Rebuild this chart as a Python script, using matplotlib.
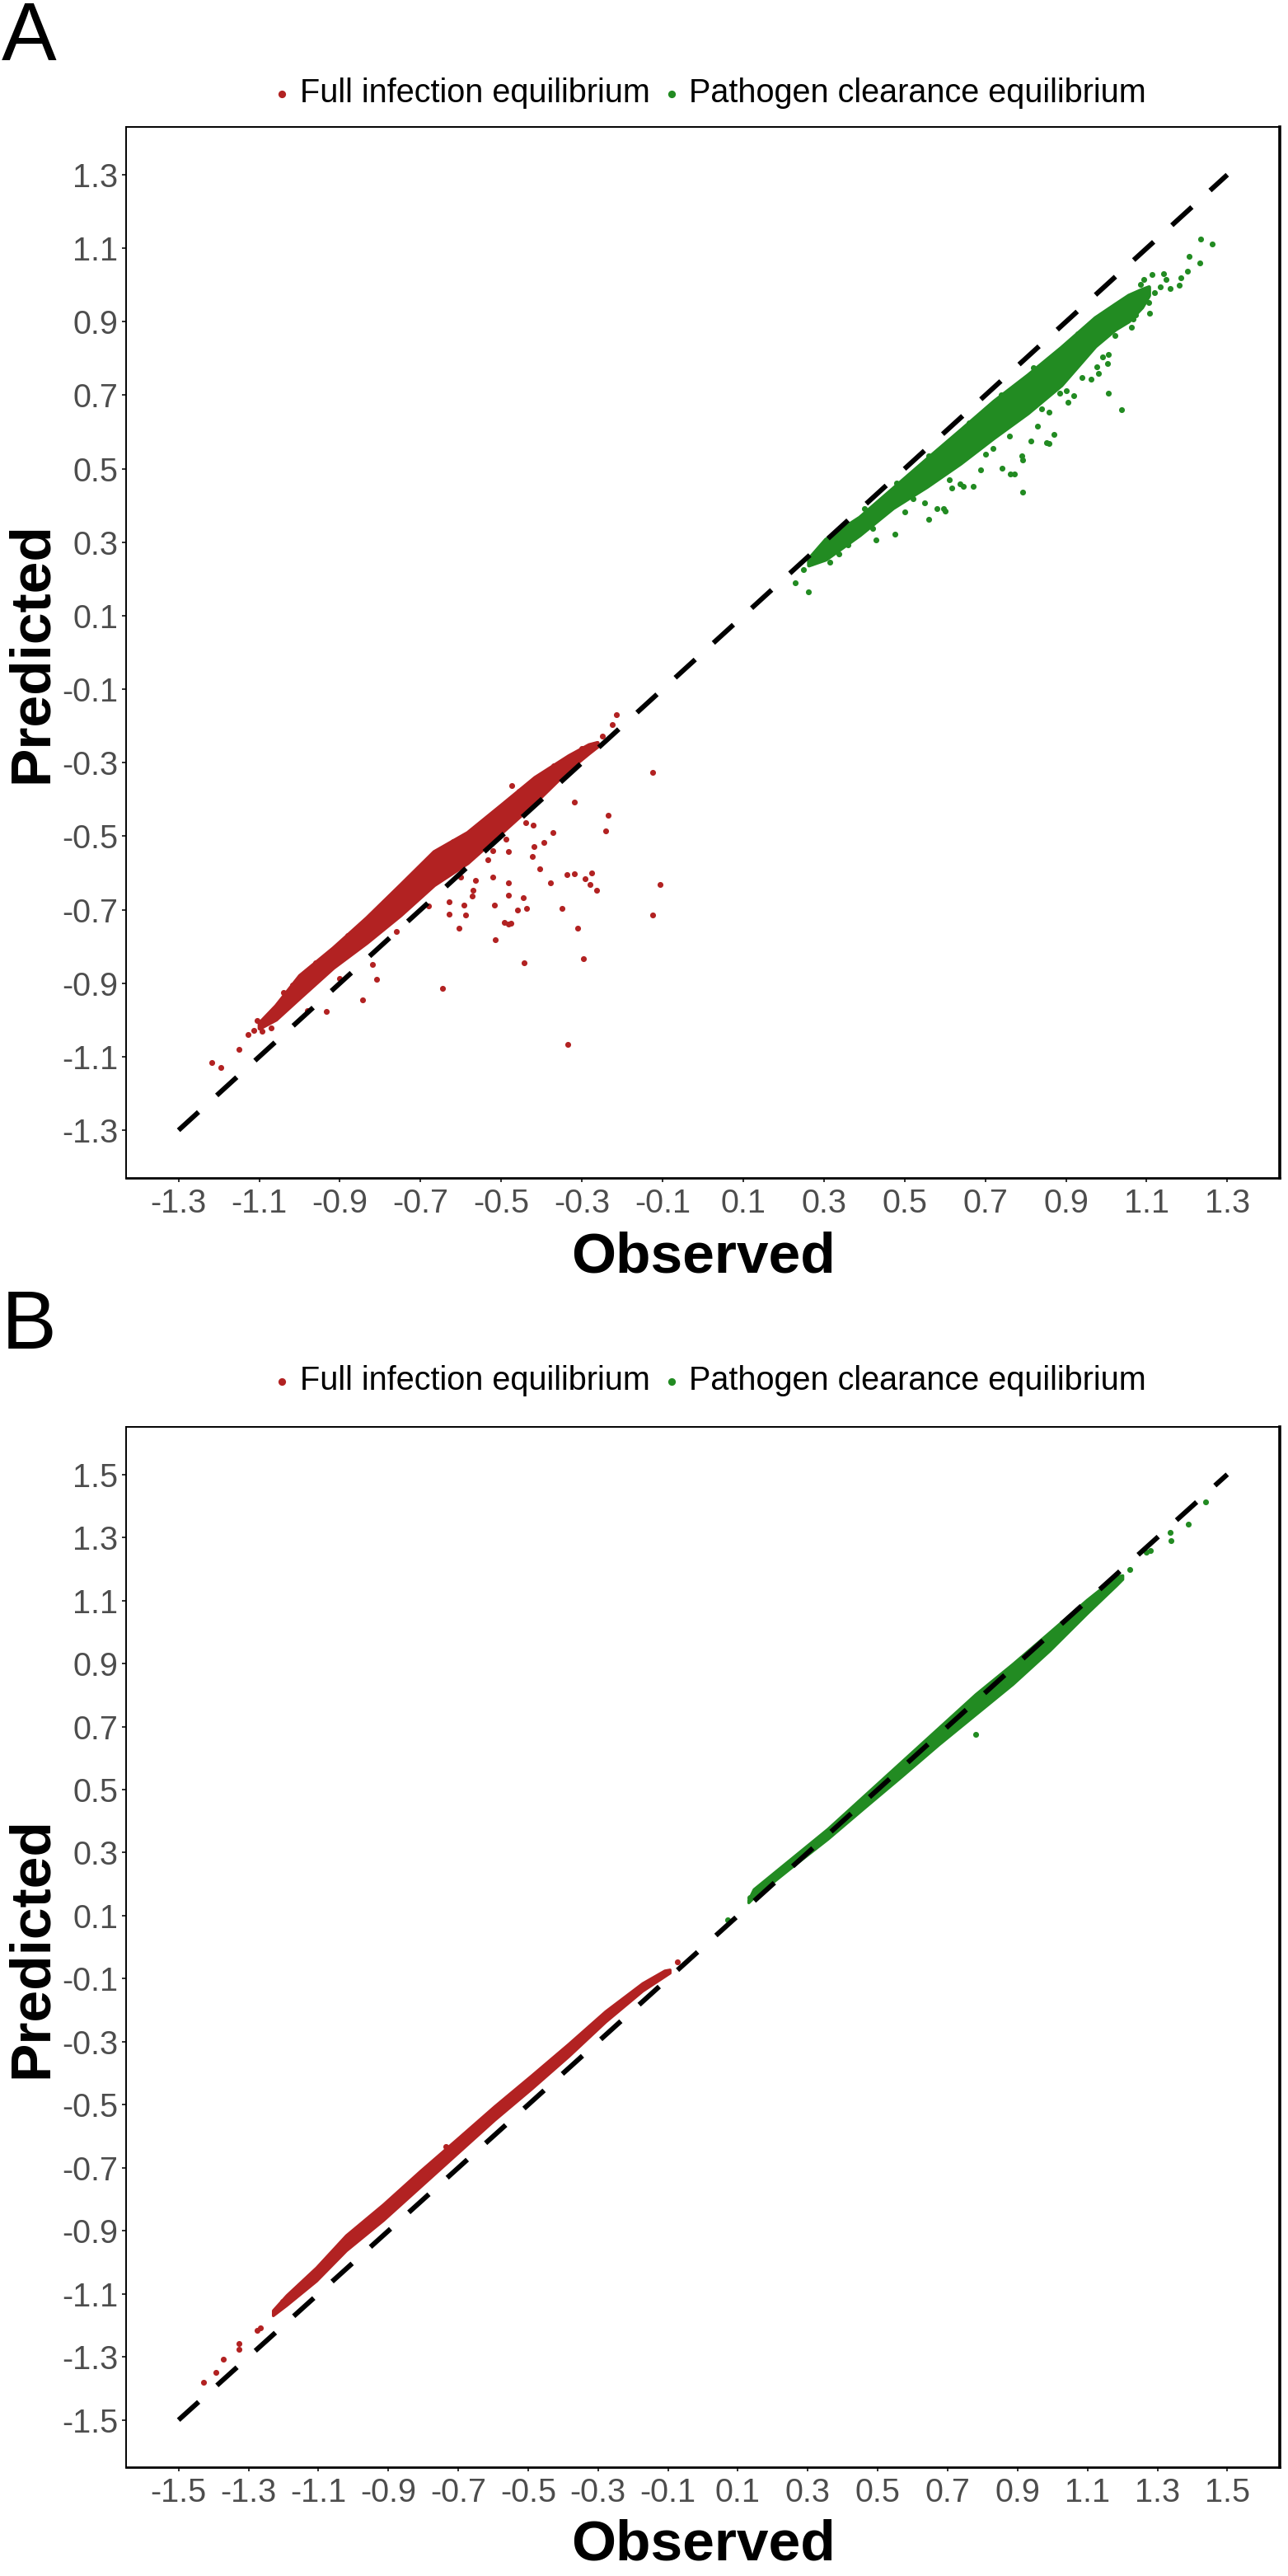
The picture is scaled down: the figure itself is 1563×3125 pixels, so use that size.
import matplotlib
matplotlib.use("Agg")
import matplotlib.pyplot as plt

plt.rcParams['font.family'] = ['Liberation Sans', 'DejaVu Sans']
plt.rcParams['axes.unicode_minus'] = False

RED = '#B22222'
GREEN = '#228B22'
LABELS = ["Full infection equilibrium", "Pathogen clearance equilibrium"]

# ---------------- panel A ----------------
a_ticks = [-1.3, -1.1, -0.9, -0.7, -0.5, -0.3, -0.1, 0.1, 0.3, 0.5, 0.7, 0.9, 1.1, 1.3]
a_lim = [-1.43, 1.43]
a_line = [-1.3, 1.3]

# dense core of the clouds (observed, predicted lower edge, predicted upper edge)
a_red_core_x = [-1.10, -1.059, -1.000, -0.917, -0.834, -0.750, -0.667, -0.584, -0.500, -0.417, -0.333, -0.283, -0.262]
a_red_core_lo = [-1.022, -0.998, -0.939, -0.857, -0.789, -0.714, -0.632, -0.572, -0.490, -0.408, -0.318, -0.273, -0.255]
a_red_core_hi = [-1.008, -0.961, -0.879, -0.804, -0.722, -0.632, -0.542, -0.490, -0.415, -0.340, -0.281, -0.251, -0.245]

a_green_core_x = [0.262, 0.304, 0.388, 0.471, 0.555, 0.638, 0.721, 0.805, 0.888, 0.972, 1.022, 1.055, 1.088, 1.105]
a_green_core_lo = [0.238, 0.254, 0.320, 0.394, 0.452, 0.515, 0.585, 0.652, 0.728, 0.834, 0.880, 0.902, 0.940, 0.972]
a_green_core_hi = [0.255, 0.308, 0.368, 0.447, 0.527, 0.605, 0.684, 0.755, 0.830, 0.911, 0.948, 0.972, 0.988, 0.995]

# scattered points around the cores
a_red_x = [-1.217, -1.196, -1.151, -1.127, -1.105, -1.084, -1.071, -1.092, -1.113, -1.017,
           -0.934, -0.844, -0.809, -0.819, -0.646, -0.629, -0.629, -0.604, -0.589, -0.592,
           -0.573, -0.571, -0.563, -0.534, -0.521, -0.517, -0.514, -0.492, -0.483, -0.475,
           -0.483, -0.483, -0.483, -0.488, -0.473, -0.459, -0.446, -0.438, -0.444, -0.421,
           -0.419, -0.423, -0.404, -0.394, -0.378, -0.371, -0.350, -0.338, -0.336, -0.318,
           -0.318, -0.310, -0.296, -0.292, -0.279, -0.275, -0.263, -0.242, -0.235, -0.215,
           -0.225, -0.250, -0.125, -0.125, -0.107,
           -1.040, -0.960, -0.880, -0.790, -0.705, -0.620, -0.540, -0.455, -0.370, -0.300,
           -0.980, -0.900, -0.760, -0.680, -0.600, -0.520, -0.440]
a_red_y = [-1.115, -1.129, -1.079, -1.040, -1.002, -0.996, -1.022, -1.031, -1.028, -0.904,
           -0.976, -0.946, -0.889, -0.848, -0.914, -0.679, -0.711, -0.750, -0.714, -0.687,
           -0.662, -0.647, -0.619, -0.563, -0.610, -0.687, -0.782, -0.735, -0.738, -0.737,
           -0.661, -0.627, -0.542, -0.507, -0.363, -0.700, -0.668, -0.697, -0.844, -0.469,
           -0.528, -0.554, -0.589, -0.518, -0.627, -0.490, -0.697, -0.605, -1.066, -0.406,
           -0.602, -0.750, -0.834, -0.616, -0.632, -0.599, -0.647, -0.486, -0.442, -0.170,
           -0.196, -0.228, -0.326, -0.714, -0.631,
           -0.925, -0.845, -0.770, -0.680, -0.600, -0.515, -0.462, -0.378, -0.308, -0.262,
           -0.975, -0.888, -0.760, -0.690, -0.612, -0.540, -0.462]

a_green_x = [0.229, 0.261, 0.250, 0.267, 0.296, 0.314, 0.338, 0.430, 0.475, 0.559,
             0.596, 0.600, 0.580, 0.550, 0.638, 0.671, 0.646, 0.617, 0.688, 0.742,
             0.763, 0.773, 0.792, 0.790, 0.792, 0.813, 0.830, 0.851, 0.859, 0.871,
             0.859, 0.884, 0.905, 0.920, 0.963, 0.976, 0.980, 1.005, 1.038, 1.005,
             1.003, 1.022, 1.051, 1.067, 1.063, 1.072, 1.107, 1.105, 1.097, 1.092,
             1.113, 1.120, 1.134, 1.142, 1.148, 1.159, 1.184, 1.180, 1.201, 1.205,
             1.234, 1.232, 1.263,
             0.360, 0.420, 0.500, 0.520, 0.610, 0.700, 0.720, 0.760, 0.840, 0.900,
             0.940, 0.990, 0.400, 0.480, 0.560, 0.660, 0.740, 0.820, 0.930, 1.030,
             1.075, 1.085]
a_green_y = [0.190, 0.166, 0.225, 0.243, 0.258, 0.246, 0.269, 0.306, 0.321, 0.362,
             0.392, 0.385, 0.392, 0.407, 0.459, 0.453, 0.452, 0.448, 0.497, 0.502,
             0.486, 0.486, 0.437, 0.536, 0.525, 0.575, 0.616, 0.572, 0.568, 0.594,
             0.654, 0.706, 0.680, 0.699, 0.744, 0.777, 0.759, 0.706, 0.661, 0.811,
             0.787, 0.863, 0.919, 0.908, 0.886, 0.919, 0.923, 0.953, 0.975, 1.016,
             1.028, 0.979, 0.994, 1.031, 1.016, 0.990, 1.020, 0.999, 1.037, 1.078,
             1.125, 1.059, 1.112,
             0.292, 0.338, 0.382, 0.418, 0.470, 0.540, 0.555, 0.590, 0.662, 0.712,
             0.748, 0.804, 0.392, 0.462, 0.535, 0.625, 0.700, 0.775, 0.868, 0.935,
             0.955, 1.002]

# ---------------- panel B ----------------
b_ticks = [-1.5, -1.3, -1.1, -0.9, -0.7, -0.5, -0.3, -0.1, 0.1, 0.3, 0.5, 0.7, 0.9, 1.1, 1.3, 1.5]
b_lim = [-1.65, 1.65]
b_line = [-1.5, 1.5]

b_red_core_x = [-1.230, -1.191, -1.106, -1.021, -0.915, -0.809, -0.703, -0.597, -0.491, -0.385, -0.279, -0.173, -0.110, -0.095]
b_red_core_lo = [-1.168, -1.135, -1.058, -0.962, -0.866, -0.760, -0.654, -0.548, -0.449, -0.346, -0.236, -0.138, -0.092, -0.081]
b_red_core_hi = [-1.152, -1.104, -1.016, -0.914, -0.816, -0.710, -0.608, -0.505, -0.407, -0.307, -0.203, -0.114, -0.074, -0.071]

b_green_core_x = [0.130, 0.145, 0.251, 0.357, 0.463, 0.569, 0.674, 0.780, 0.886, 0.992, 1.098, 1.183, 1.200]
b_green_core_lo = [0.142, 0.158, 0.252, 0.344, 0.444, 0.543, 0.643, 0.739, 0.835, 0.942, 1.059, 1.149, 1.168]
b_green_core_hi = [0.150, 0.184, 0.280, 0.376, 0.483, 0.590, 0.696, 0.803, 0.899, 1.000, 1.102, 1.177, 1.180]

b_red_x = [-1.428, -1.392, -1.371, -1.328, -1.328, -1.276, -1.265, -1.222, -1.201, -0.735, -0.072]
b_red_y = [-1.380, -1.350, -1.307, -1.258, -1.275, -1.215, -1.209, -1.151, -1.123, -0.632, -0.047]

b_green_x = [0.070, 0.134, 0.780, 1.221, 1.268, 1.279, 1.336, 1.338, 1.389, 1.438]
b_green_y = [0.088, 0.158, 0.675, 1.198, 1.252, 1.258, 1.316, 1.290, 1.341, 1.412]


def draw_panel(ax, ticks, lim, line, red_core, green_core, red_pts, green_pts, edge):
    for (cx, lo, hi), col in ((red_core, RED), (green_core, GREEN)):
        ax.fill_between(cx, lo, hi, color=col, lw=edge, joinstyle='round', zorder=2)
    ax.scatter(red_pts[0], red_pts[1], s=26, color=RED, lw=0, zorder=3, label=LABELS[0])
    ax.scatter(green_pts[0], green_pts[1], s=26, color=GREEN, lw=0, zorder=3, label=LABELS[1])
    ax.plot(line, line, color='black', lw=4.3, dashes=(5.5, 5.0),
            dash_capstyle='butt', zorder=4)

    ax.set_xlim(lim)
    ax.set_ylim(lim)
    ax.set_xticks(ticks)
    ax.set_yticks(ticks)
    ax.set_xticklabels([f"{t:.1f}" for t in ticks])
    ax.set_yticklabels([f"{t:.1f}" for t in ticks])
    ax.tick_params(axis='both', labelsize=28.5, labelcolor='#4D4D4D', color='#333333',
                   length=3.6, width=1.4, direction='out')
    ax.tick_params(axis='x', pad=5)
    ax.tick_params(axis='y', pad=3.6)
    for side, w in (('left', 1.4), ('top', 1.4), ('bottom', 2.0), ('right', 2.6)):
        ax.spines[side].set_linewidth(w)
        ax.spines[side].set_color('black')

    ax.set_xlabel("Observed", fontsize=50, fontweight='bold')
    ax.set_ylabel("Predicted", fontsize=50, fontweight='bold')


fig = plt.figure(figsize=(15.63, 31.25), dpi=100)
ax_a = fig.add_axes([0.0979, 0.5427, 0.8957, 0.408])
ax_b = fig.add_axes([0.0979, 0.0422, 0.8957, 0.4038])

draw_panel(ax_a, a_ticks, a_lim, a_line,
           (a_red_core_x, a_red_core_lo, a_red_core_hi),
           (a_green_core_x, a_green_core_lo, a_green_core_hi),
           (a_red_x, a_red_y), (a_green_x, a_green_y), 3.5)
draw_panel(ax_b, b_ticks, b_lim, b_line,
           (b_red_core_x, b_red_core_lo, b_red_core_hi),
           (b_green_core_x, b_green_core_lo, b_green_core_hi),
           (b_red_x, b_red_y), (b_green_x, b_green_y), 2.5)

for ax, xl_y, leg_y in ((ax_a, -0.0894, 0.9638), (ax_b, -0.0887, 0.4640)):
    ax.xaxis.label.set_va('baseline')
    ax.xaxis.set_label_coords(0.5, xl_y)
    ax.yaxis.label.set_va('baseline')
    ax.yaxis.set_label_coords(-0.069, 0.5)
    ax.legend(loc='center', bbox_to_anchor=(0.552, leg_y), bbox_transform=fig.transFigure,
              ncol=2, frameon=False, fontsize=28.5, handlelength=0.4, handletextpad=0.35,
              columnspacing=0.45, borderpad=0, markerscale=1.3)

fig.text(0.001, 1.0, "A", fontsize=72, ha='left', va='top')
fig.text(0.001, 0.4998, "B", fontsize=72, ha='left', va='top')

fig.savefig("out.png", dpi=100)
